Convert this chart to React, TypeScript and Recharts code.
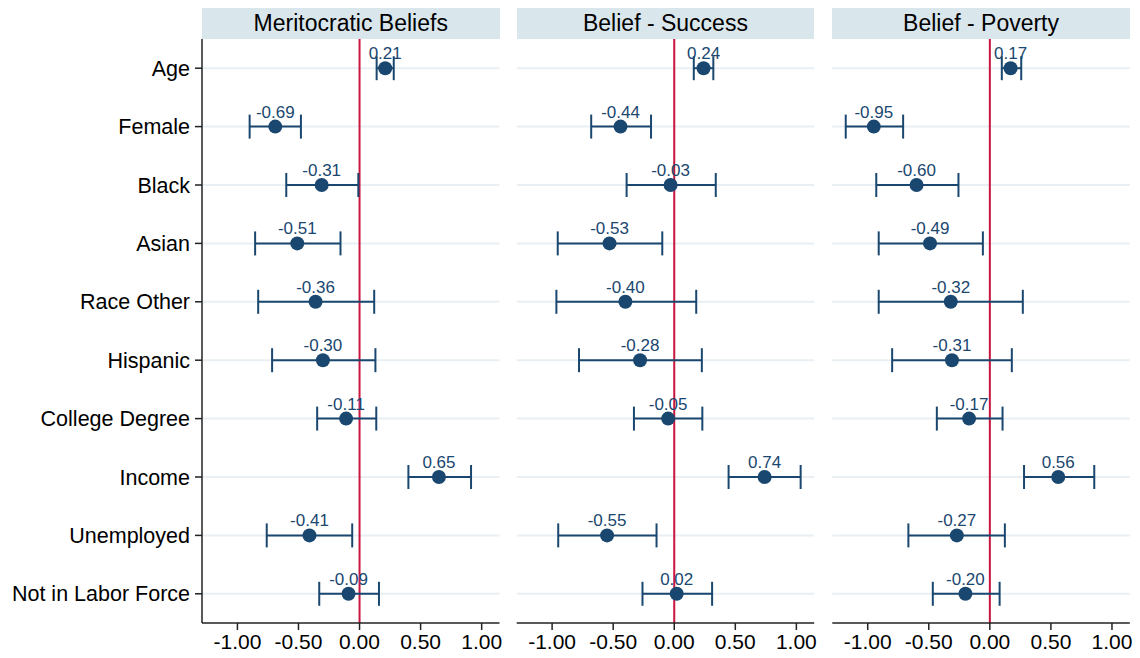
import React from 'react'
import {
  ScatterChart,
  Scatter,
  XAxis,
  YAxis,
  ErrorBar,
  ReferenceLine,
} from 'recharts'

const categories = [
  'Age',
  'Female',
  'Black',
  'Asian',
  'Race Other',
  'Hispanic',
  'College Degree',
  'Income',
  'Unemployed',
  'Not in Labor Force',
]

const meritEst = [0.21, -0.69, -0.31, -0.51, -0.36, -0.3, -0.11, 0.65, -0.41, -0.09]
const meritLo = [0.14, -0.9, -0.6, -0.855, -0.83, -0.716, -0.347, 0.4, -0.76, -0.33]
const meritHi = [0.28, -0.48, -0.01, -0.156, 0.12, 0.13, 0.137, 0.913, -0.06, 0.159]

const successEst = [0.24, -0.44, -0.03, -0.53, -0.4, -0.28, -0.05, 0.74, -0.55, 0.02]
const successLo = [0.16, -0.68, -0.39, -0.954, -0.965, -0.78, -0.33, 0.445, -0.95, -0.26]
const successHi = [0.32, -0.19, 0.34, -0.098, 0.18, 0.226, 0.23, 1.035, -0.145, 0.31]

const povertyEst = [0.17, -0.95, -0.6, -0.49, -0.32, -0.31, -0.17, 0.56, -0.27, -0.2]
const povertyLo = [0.098, -1.18, -0.93, -0.91, -0.91, -0.8, -0.434, 0.28, -0.667, -0.467]
const povertyHi = [0.257, -0.71, -0.257, -0.057, 0.27, 0.18, 0.104, 0.855, 0.123, 0.08]

const xTicks = [-1, -0.5, 0, 0.5, 1]

const NAVY = '#1a476f'
const RED = '#c8163f'
const GRID = '#e9eff3'
const FONT = '"Liberation Sans", Arial, sans-serif'

const buildRows = (est: number[], lo: number[], hi: number[]) =>
  categories.map((c, i) => ({
    label: c,
    pos: i + 1,
    est: est[i],
    err: [est[i] - lo[i], hi[i] - est[i]],
  }))

const Dot = (props: any) => {
  const { cx, cy, payload } = props
  return (
    <g>
      <circle cx={cx} cy={cy} r={7} fill={NAVY} />
      <text
        x={cx}
        y={cy - 9}
        textAnchor="middle"
        fontSize={17}
        fill={NAVY}
        fontFamily={FONT}
      >
        {payload.est.toFixed(2)}
      </text>
    </g>
  )
}

interface PanelProps {
  title: string
  est: number[]
  lo: number[]
  hi: number[]
  left: number
  width: number
  marginLeft: number
  showY: boolean
}

function Panel({ title, est, lo, hi, left, width, marginLeft, showY }: PanelProps) {
  const data = buildRows(est, lo, hi)
  const yW = showY ? 202 : 0
  const plotLeft = left + marginLeft + yW
  const plotW = 297.5
  const rightMargin = width - marginLeft - yW - plotW
  return (
    <>
      <div
        style={{
          position: 'absolute',
          left: plotLeft,
          top: 8,
          width: plotW,
          height: 31,
          background: '#d9e6ec',
          textAlign: 'center',
          lineHeight: '31px',
          fontSize: 23,
          fontFamily: FONT,
          color: '#000',
        }}
      >
        {title}
      </div>
      <div style={{ position: 'absolute', left, top: 0 }}>
        <ScatterChart
          width={width}
          height={658}
          margin={{ top: 39, right: rightMargin, bottom: 5, left: marginLeft }}
        >
          <XAxis
            type="number"
            dataKey="est"
            domain={[-1.29, 1.146]}
            ticks={xTicks}
            allowDataOverflow
            tickFormatter={(v: number) => v.toFixed(2)}
            tick={{ fill: '#000', fontSize: 21, fontFamily: FONT }}
            tickSize={7}
            tickMargin={4}
            height={30}
            axisLine={{ stroke: '#222', strokeWidth: 1.5 }}
            tickLine={{ stroke: '#222', strokeWidth: 1.5 }}
          />
          <YAxis
            type="number"
            dataKey="pos"
            domain={[0.5, 10.5]}
            reversed
            ticks={categories.map((_, i) => i + 1)}
            tickFormatter={(v: number) => categories[v - 1] ?? ''}
            hide={!showY}
            width={yW}
            interval={0}
            tick={{ fill: '#000', fontSize: 21.5, fontFamily: FONT }}
            tickSize={7}
            tickMargin={5}
            axisLine={{ stroke: '#222', strokeWidth: 1.5 }}
            tickLine={{ stroke: '#222', strokeWidth: 1.5 }}
          />
          {categories.map((_, i) => (
            <ReferenceLine key={i} y={i + 1} stroke={GRID} strokeWidth={2} />
          ))}
          <ReferenceLine x={0} stroke={RED} strokeWidth={2} />
          <Scatter data={data} shape={<Dot />} isAnimationActive={false}>
            <ErrorBar
              dataKey="err"
              direction="x"
              width={12}
              stroke={NAVY}
              strokeWidth={2}
              isAnimationActive={false}
            />
          </Scatter>
        </ScatterChart>
      </div>
    </>
  )
}

export default function App() {
  return (
    <div
      style={{
        position: 'absolute',
        left: 0,
        top: 0,
        width: 1140,
        height: 658,
        background: '#fff',
        overflow: 'hidden',
      }}
    >
      <Panel title="Meritocratic Beliefs" est={meritEst} lo={meritLo} hi={meritHi} left={0} width={506} marginLeft={0} showY />
      <Panel title="Belief - Success" est={successEst} lo={successLo} hi={successHi} left={510} width={311} marginLeft={6.7} showY={false} />
      <Panel title="Belief - Poverty" est={povertyEst} lo={povertyLo} hi={povertyHi} left={826} width={311} marginLeft={6.3} showY={false} />
    </div>
  )
}
